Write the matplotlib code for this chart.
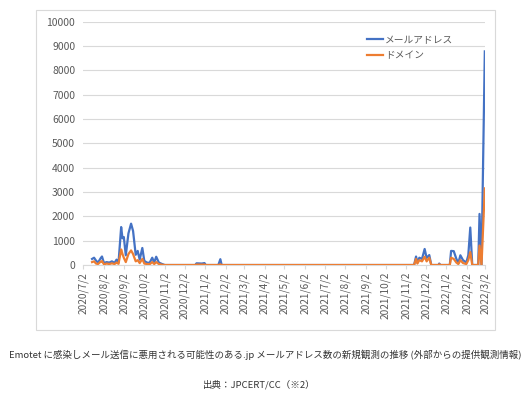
import pandas as pd
import matplotlib.pyplot as plt
from matplotlib.patches import Rectangle

plt.rcParams['font.family'] = ['Noto Sans CJK JP', 'DejaVu Sans']

dates = [
    "2020-07-15", "2020-07-18", "2020-07-21", "2020-07-24", "2020-07-28", "2020-07-30",
    "2020-08-02", "2020-08-06", "2020-08-10", "2020-08-14", "2020-08-18", "2020-08-21",
    "2020-08-24", "2020-08-28", "2020-08-30", "2020-09-01", "2020-09-04", "2020-09-08",
    "2020-09-12", "2020-09-15", "2020-09-19", "2020-09-22", "2020-09-25", "2020-09-29",
    "2020-10-02", "2020-10-06", "2020-10-10", "2020-10-14", "2020-10-17", "2020-10-20",
    "2020-10-24", "2020-10-29", "2020-11-02", "2020-12-18", "2020-12-20", "2020-12-28",
    "2021-01-01", "2021-01-03", "2021-01-22", "2021-01-25", "2021-01-27", "2021-11-14",
    "2021-11-17", "2021-11-19", "2021-11-22", "2021-11-26", "2021-11-30", "2021-12-03",
    "2021-12-07", "2021-12-10", "2021-12-21", "2021-12-22", "2021-12-24", "2022-01-07",
    "2022-01-09", "2022-01-13", "2022-01-17", "2022-01-20", "2022-01-23", "2022-01-27",
    "2022-02-01", "2022-02-04", "2022-02-07", "2022-02-10", "2022-02-19", "2022-02-21",
    "2022-02-24", "2022-03-01",
]
mail_addr = [
    250, 300, 180, 100, 280, 350,
    80, 120, 100, 150, 90, 220,
    100, 1560, 1100, 1150, 400, 1300,
    1700, 1400, 420, 580, 220, 700,
    170, 100, 90, 300, 100, 340,
    100, 40, 0, 0, 70, 60,
    80, 0, 0, 240, 0, 0,
    350, 100, 300, 250, 660, 290,
    410, 0, 0, 60, 0, 0,
    580, 570, 250, 80, 400, 200,
    100, 400, 1540, 0, 0, 2100,
    0, 8780,
]
domain = [
    120, 150, 60, 40, 140, 160,
    30, 60, 40, 70, 40, 100,
    50, 640, 450, 300, 120, 450,
    600, 450, 150, 200, 80, 250,
    60, 40, 30, 120, 40, 120,
    40, 10, 0, 0, 20, 15,
    20, 0, 0, 30, 0, 0,
    250, 60, 200, 150, 340, 150,
    300, 0, 0, 30, 0, 0,
    300, 250, 100, 40, 200, 80,
    40, 200, 530, 0, 0, 800,
    0, 3150,
]
series_names = ["メールアドレス", "ドメイン"]

x = pd.to_datetime(dates)
tick_dates = pd.date_range("2020-07-01", "2022-03-01", freq="MS") + pd.Timedelta(days=1)
tick_labels = [f"{d.year}/{d.month}/{d.day}" for d in tick_dates]

fig = plt.figure(figsize=(5.30, 3.99), dpi=100)
ax = fig.add_axes([0.1575, 0.3358, 0.7585, 0.6098])

ax.plot(x, mail_addr, color="#4472C4", lw=1.6, label=series_names[0], zorder=3)
ax.plot(x, domain, color="#ED7D31", lw=1.6, label=series_names[1], zorder=4)

ax.set_ylim(0, 10000)
ax.set_yticks(range(0, 10001, 1000))
ax.set_xlim(tick_dates[0], tick_dates[-1])
ax.set_xticks(tick_dates)
ax.set_xticklabels(tick_labels, rotation=90)

ax.grid(axis="y", color="#D9D9D9", lw=0.8)
ax.set_axisbelow(True)
for side in ["top", "right", "left"]:
    ax.spines[side].set_visible(False)
ax.spines["bottom"].set_color("#D9D9D9")
ax.tick_params(axis="y", length=0, labelsize=7.5, labelcolor="#595959", pad=6)
ax.tick_params(axis="x", length=3, color="#D9D9D9", labelsize=7.3, labelcolor="#595959", pad=2)

ax.legend(loc="upper left", bbox_to_anchor=(358 / 530, 1 - 26 / 399),
          bbox_transform=fig.transFigure, frameon=False, fontsize=7,
          handlelength=1.7, handletextpad=0.2, labelspacing=0.6,
          labelcolor="#595959")

# chart frame
fig.patches.append(Rectangle((36 / 530, 69 / 399), 459 / 530, 320 / 399,
                             transform=fig.transFigure, fill=False,
                             edgecolor="#D9D9D9", lw=0.8))

fig.text(0.5, 1 - 355 / 399,
         "Emotet に感染しメール送信に悪用される可能性のある.jp メールアドレス数の新規観測の推移 (外部からの提供観測情報)",
         ha="center", va="center", fontsize=6.8, color="#333333")
fig.text(0.49, 1 - 385 / 399, "出典：JPCERT/CC（※2）",
         ha="center", va="center", fontsize=6.8, color="#333333")

fig.savefig("out.png", dpi=100)
